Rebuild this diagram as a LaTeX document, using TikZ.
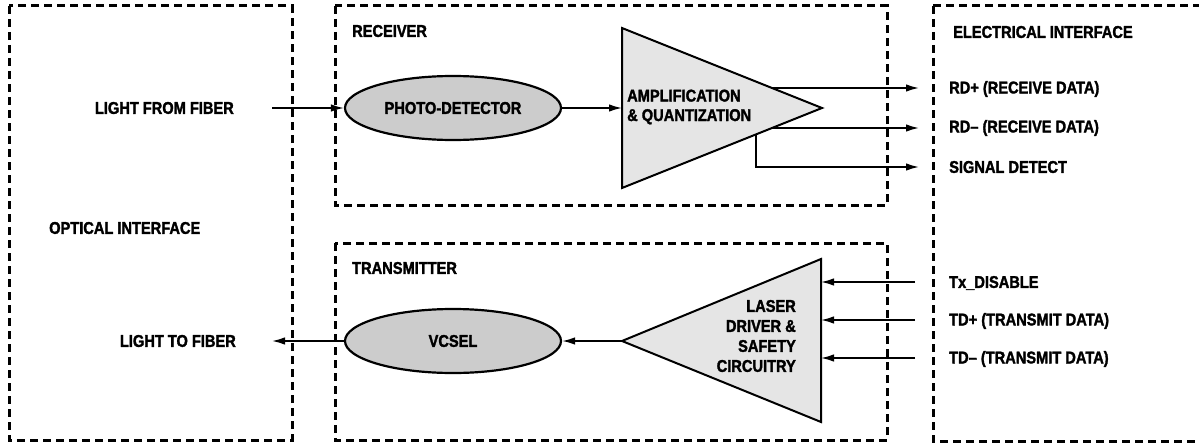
\documentclass[tikz,border=0pt]{standalone}
\usepackage{fontspec}
\newfontfamily\lblfont{Liberation Sans Bold}[FakeStretch=0.86,FakeBold=1.8]
\usetikzlibrary{arrows.meta,shapes.geometric}
\begin{document}
\begin{tikzpicture}[x=1pt,y=-1pt,
  lbl/.style={font=\fontsize{17}{20}\lblfont, inner sep=0pt},
  region/.style={draw, line width=3pt, dash pattern=on 8pt off 5pt},
  blob/.style={ellipse, draw, line width=2.2pt, fill=black!20, minimum width=216pt, minimum height=64pt, inner sep=0pt},
  amp/.style={draw, line width=2pt, fill=black!10, line join=miter},
  conn/.style={line width=1.6pt, -{Latex[length=13pt,width=7.5pt]}}
]
\useasboundingbox (0,0) rectangle (1199,444);
% regions
\draw[region] (9,6) rectangle (292,440);
\draw[region] (335,6) rectangle (887,205);
\draw[region] (335,243) rectangle (887,440);
\draw[region] (933,6) -- (933,441) -- (1205,441);
\draw[region] (933,6) -- (1205,6);
% region titles
\node[lbl, anchor=west] (optT) at (49,228) {OPTICAL INTERFACE};
\node[lbl, anchor=west] (rxT) at (352,31) {RECEIVER};
\node[lbl, anchor=west] (txT) at (352,268) {TRANSMITTER};
\node[lbl, anchor=west] (elT) at (953,32) {ELECTRICAL INTERFACE};
% optical labels
\node[lbl, anchor=east] (lff) at (234,108) {LIGHT FROM FIBER};
\node[lbl, anchor=east] (ltf) at (236,341) {LIGHT TO FIBER};
\coordinate (lffE) at (272,108);
\coordinate (ltfE) at (272,341);
% ellipses
\node[blob] (pd) at (453,108) {};
\node[lbl] at (453,108) {PHOTO-DETECTOR};
\node[blob] (vc) at (453,341) {};
\node[lbl] at (453,341) {VCSEL};
% amplifier
\coordinate (a1) at (622,28);
\coordinate (a2) at (622,188);
\coordinate (a3) at (822,108);
\draw[amp] (a1) -- (a3) -- (a2) -- cycle;
\node[lbl, anchor=west, align=left] (ampT) at (627,107) {AMPLIFICATION\\[-0.5pt]\& QUANTIZATION};
\coordinate (ampIn) at (622,108);
\coordinate (rdpS) at (772,88);
\coordinate (rdmS) at (772,128);
\coordinate (sdS) at (756,134.4);
% laser driver
\coordinate (l1) at (821,259);
\coordinate (l2) at (821,422);
\coordinate (l3) at (622,341);
\draw[amp] (l1) -- (l2) -- (l3) -- cycle;
\node[lbl, anchor=east, align=right] (ldT) at (796,336) {LASER\\DRIVER \&\\SAFETY\\CIRCUITRY};
\coordinate (txdE) at (821,282);
\coordinate (tdpE) at (821,320);
\coordinate (tdmE) at (821,358);
% electrical labels
\node[lbl, anchor=west] (rdp) at (949,89) {RD+ (RECEIVE DATA)};
\node[lbl, anchor=west] (rdm) at (949,128) {RD– (RECEIVE DATA)};
\node[lbl, anchor=west] (sd) at (949,167) {SIGNAL DETECT};
\node[lbl, anchor=west] (txd) at (949,283) {Tx\_DISABLE};
\node[lbl, anchor=west] (tdp) at (949,321) {TD+ (TRANSMIT DATA)};
\node[lbl, anchor=west] (tdm) at (949,359) {TD– (TRANSMIT DATA)};
\coordinate (rdpE) at (919,88);
\coordinate (rdmE) at (919,128);
\coordinate (sdE) at (919,167);
\coordinate (txdS) at (915,282);
\coordinate (tdpS) at (915,320);
\coordinate (tdmS) at (915,358);
% connectors
\draw[conn] (lffE) -- (pd.west);
\draw[conn] (pd.east) -- (ampIn);
\draw[conn] (rdpS) -- (rdpE);
\draw[conn] (rdmS) -- (rdmE);
\draw[conn] (sdS) |- (sdE);
\draw[conn] (txdS) -- (txdE);
\draw[conn] (tdpS) -- (tdpE);
\draw[conn] (tdmS) -- (tdmE);
\draw[conn] (l3) -- (vc.east);
\draw[conn] (vc.west) -- (ltfE);
\end{tikzpicture}
\end{document}
